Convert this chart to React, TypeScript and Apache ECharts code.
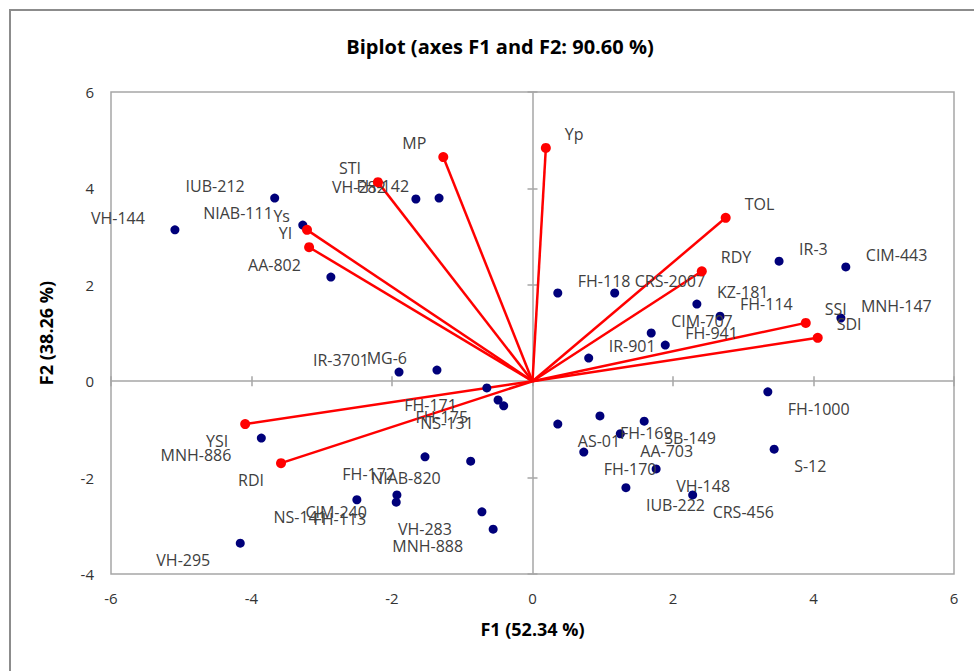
import React, { useEffect, useRef } from 'react';
import * as echarts from 'echarts';

const FONT = '"Open Sans", "Noto Sans", sans-serif';

// Observations (genotypes)
const obsNames = [
  'VH-144', 'IUB-212', 'NIAB-111', 'AA-802', 'VH-282', 'FH-142', 'IR-3701', 'MG-6',
  'FH-171', 'FH-175', 'NS-131', 'FH-172', 'NIAB-820', 'NS-141', 'CIM-240', 'FH-113',
  'VH-283', 'MNH-888', 'MNH-886', 'VH-295',
  'AS-01', 'FH-169', 'SB-149', 'AA-703', 'FH-170', 'VH-148', 'IUB-222', 'CRS-456', 'FH-1000', 'S-12',
  'FH-118', 'CRS-2007', 'KZ-181', 'FH-114', 'CIM-707', 'FH-941', 'IR-901', 'IR-3', 'CIM-443', 'MNH-147',
];
const obsF1 = [
  -5.09, -3.67, -3.27, -2.87, -1.66, -1.33, -1.90, -1.36,
  -0.65, -0.49, -0.41, -1.53, -0.88, -2.50, -1.93, -1.94,
  -0.72, -0.56, -3.86, -4.16,
  0.36, 0.96, 1.59, 1.25, 0.73, 1.76, 1.33, 2.28, 3.35, 3.44,
  0.36, 1.17, 2.34, 2.67, 1.69, 1.89, 0.80, 3.51, 4.46, 4.39,
];
const obsF2 = [
  3.14, 3.80, 3.24, 2.16, 3.78, 3.80, 0.19, 0.23,
  -0.14, -0.39, -0.51, -1.57, -1.66, -2.46, -2.36, -2.51,
  -2.71, -3.07, -1.18, -3.36,
  -0.89, -0.72, -0.83, -1.09, -1.47, -1.82, -2.21, -2.36, -0.22, -1.41,
  1.83, 1.83, 1.60, 1.35, 1.00, 0.75, 0.48, 2.49, 2.37, 1.31,
];

// Variables (indices)
const varNames = ['Yp', 'MP', 'STI', 'TOL', 'RDY', 'SSI', 'SDI', 'YSI', 'RDI', 'Ys', 'YI'];
const varF1 = [0.19, -1.27, -2.20, 2.75, 2.41, 3.89, 4.06, -4.09, -3.58, -3.21, -3.18];
const varF2 = [4.84, 4.65, 4.13, 3.39, 2.28, 1.21, 0.90, -0.89, -1.70, 3.14, 2.78];

const xTicks = [-6, 6, 2];
const yTicks = [-4, 6, 2];

const labelFor = (
  name: string, x: number, y: number,
  gapL: number, gapR: number, half: number, up: number, down: number,
) => ({
  show: true,
  formatter: name,
  position: x >= 0 ? 'right' : 'left',
  distance: (x >= 0 ? gapR : gapL) - half,
  offset: [0, y >= 0 ? -up : down],
  color: '#404040',
  fontSize: 16,
  fontFamily: FONT,
});

export default function App() {
  const ref = useRef<HTMLDivElement>(null);
  useEffect(() => {
    if (!ref.current) return;
    const chart = echarts.init(ref.current, null, { renderer: 'svg' });
    const axisGray = '#a6a6a6';
    const baseX = { type: 'value', min: xTicks[0], max: xTicks[1], interval: xTicks[2], splitLine: { show: false } };
    const baseY = { type: 'value', min: yTicks[0], max: yTicks[1], interval: yTicks[2], splitLine: { show: false } };
    const option: any = {
      animation: false,
      backgroundColor: '#ffffff',
      grid: {
        left: 111, top: 92, right: 20, bottom: 97,
        show: true, borderColor: axisGray, borderWidth: 1.5,
      },
      graphic: [
        {
          type: 'rect', silent: true, z: -10,
          shape: { x: 10, y: 10, width: 1000, height: 700 },
          style: { fill: 'none', stroke: '#8c8c8c', lineWidth: 2 },
        },
        {
          type: 'text', x: 500, y: 46, silent: true,
          style: {
            text: 'Biplot (axes F1 and F2: 90.60 %)',
            fontFamily: FONT, fontSize: 20, fontWeight: 'bold', fill: '#000',
            align: 'center', verticalAlign: 'middle',
            textAlign: 'center', textVerticalAlign: 'middle',
          },
        },
      ],
      xAxis: [
        {
          ...baseX, position: 'bottom',
          axisLine: { show: false, onZero: false },
          axisTick: { show: false },
          axisLabel: { color: '#333', fontSize: 15, fontFamily: FONT, margin: 16 },
          name: 'F1 (52.34 %)', nameLocation: 'middle', nameGap: 46,
          nameTextStyle: { fontFamily: FONT, fontSize: 18, fontWeight: 'bold', color: '#000' },
        },
        {
          ...baseX, position: 'bottom',
          axisLine: { show: true, onZero: true, onZeroAxisIndex: 0, lineStyle: { color: axisGray, width: 1.5 } },
          axisTick: { show: true, inside: false, length: 5, lineStyle: { color: axisGray, width: 1.5 } },
          axisLabel: { show: false },
        },
        {
          ...baseX, position: 'bottom',
          axisLine: { show: false, onZero: true, onZeroAxisIndex: 0 },
          axisTick: { show: true, inside: true, length: 5, lineStyle: { color: axisGray, width: 1.5 } },
          axisLabel: { show: false },
        },
      ],
      yAxis: [
        {
          ...baseY, position: 'left',
          axisLine: { show: false, onZero: false },
          axisTick: { show: false },
          axisLabel: { color: '#333', fontSize: 15, fontFamily: FONT, margin: 17 },
          name: 'F2 (38.26 %)', nameLocation: 'middle', nameGap: 56,
          nameTextStyle: { fontFamily: FONT, fontSize: 18, fontWeight: 'bold', color: '#000' },
        },
        {
          ...baseY, position: 'left',
          axisLine: { show: true, onZero: true, onZeroAxisIndex: 0, lineStyle: { color: axisGray, width: 1.5 } },
          axisTick: { show: true, inside: false, length: 5, lineStyle: { color: axisGray, width: 1.5 } },
          axisLabel: { show: false },
        },
        {
          ...baseY, position: 'left',
          axisLine: { show: false, onZero: true, onZeroAxisIndex: 0 },
          axisTick: { show: true, inside: true, length: 5, lineStyle: { color: axisGray, width: 1.5 } },
          axisLabel: { show: false },
        },
      ],
      series: [
        {
          type: 'lines',
          coordinateSystem: 'cartesian2d',
          xAxisIndex: 0, yAxisIndex: 0,
          z: 2, silent: true,
          lineStyle: { color: '#ff0000', width: 2.5, opacity: 1 },
          data: varNames.map((_, i) => ({ coords: [[0, 0], [varF1[i], varF2[i]]] })),
        },
        {
          type: 'scatter',
          xAxisIndex: 0, yAxisIndex: 0,
          z: 3, symbolSize: 9,
          itemStyle: { color: '#00007a', opacity: 1 },
          data: obsNames.map((n, i) => ({
            name: n,
            value: [obsF1[i], obsF2[i]],
            label: labelFor(n, obsF1[i], obsF2[i], 30, 20, 4.5, 12, 17),
          })),
        },
        {
          type: 'scatter',
          xAxisIndex: 0, yAxisIndex: 0,
          z: 4, symbolSize: 10,
          itemStyle: { color: '#ff0000', opacity: 1 },
          data: varNames.map((n, i) => ({
            name: n,
            value: [varF1[i], varF2[i]],
            label: labelFor(n, varF1[i], varF2[i], 17, 19, 5, 14, 17),
          })),
        },
      ],
    };
    chart.setOption(option);
    return () => chart.dispose();
  }, []);
  return (
    <div
      ref={ref}
      style={{ position: 'fixed', left: 0, top: 0, width: 974, height: 671, background: '#fff' }}
    />
  );
}
